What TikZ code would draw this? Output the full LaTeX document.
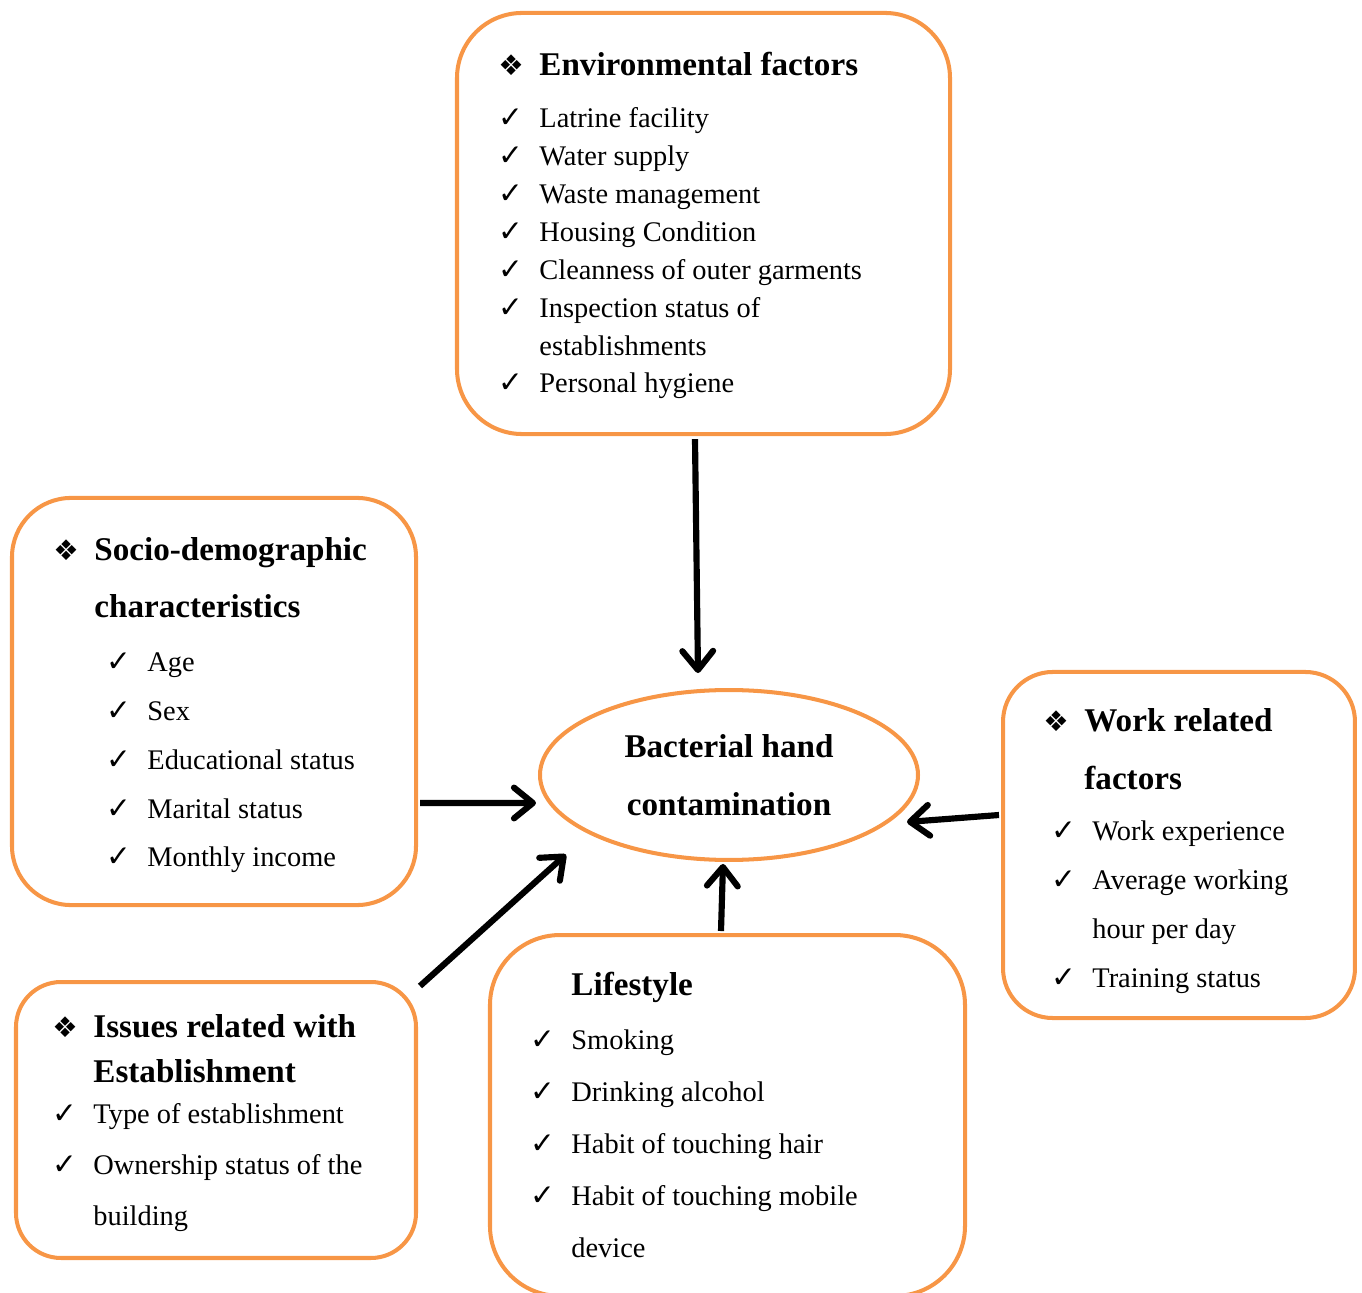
\documentclass[tikz,border=0pt]{standalone}
\usepackage{fontspec}
\setmainfont{Liberation Serif}
\newfontfamily\symf{DejaVu Sans}
\usetikzlibrary{shapes.geometric, arrows.meta, positioning}
\definecolor{boxorange}{HTML}{F79646}
\newlength\symw
\setlength\symw{17.3pt}
\newcommand\dia{\makebox[\symw][l]{\fontsize{12}{12}\selectfont\symf ❖}}
\newcommand\chk{\makebox[\symw][l]{\fontsize{12.5}{12.5}\selectfont\symf ✓}}
\newcommand\skp{\hspace*{\symw}}

\begin{document}
\begin{tikzpicture}[
        x=0.4225pt, y=-0.4225pt,
        box/.style={rectangle, draw=boxorange, line width=1.7pt, rounded corners=#1},
        head/.style={anchor=base west, align=left, inner sep=0pt, font=\fontsize{14}{24.5}\selectfont\bfseries},
        list/.style={anchor=base west, align=left, inner sep=0pt, font=\fontsize{12}{20.7}\selectfont},
        arrow/.style={-{Straight Barb[length=8pt,width=13pt,round]}, line width=2.6pt}
    ]
    \useasboundingbox (0,0) rectangle (1362,1293);

    % Boxes
    \node[box=27.5pt, minimum width=208.3pt, minimum height=177.9pt] (env) at (703.5,223.5) {};
    \node[box=25pt, minimum width=170.7pt, minimum height=172pt] (socio) at (214,701.5) {};
    \node[box=19pt, minimum width=169pt, minimum height=116.6pt] (issues) at (216,1120) {};
    \node[box=29.6pt, minimum width=200.7pt, minimum height=152.5pt] (life) at (727.5,1115.5) {};
    \node[box=21pt, minimum width=148.7pt, minimum height=146.2pt] (work) at (1179,845) {};

    % Centre
    \node[ellipse, draw=boxorange, line width=1.7pt, inner sep=0pt, minimum width=159.7pt, minimum height=71.8pt,
        align=center, font=\fontsize{14}{24.5}\selectfont\bfseries] (bact) at (729,775) {Bacterial hand\\contamination};

    % Environmental factors (base = last line)
    \node[head] (envhead) at (498,76) {\dia Environmental factors};
    \node[list, font=\fontsize{12}{16}\selectfont] (envlist) at (498,393) {\chk Latrine facility\\
        \chk Water supply\\
        \chk Waste management\\
        \chk Housing Condition\\
        \chk Cleanness of outer garments\\
        \chk Inspection status of\\
        \skp establishments\\
        \chk Personal hygiene};

    % Socio-demographic
    \node[head] (sociohead) at (53,618) {\dia Socio-demographic\\ \skp characteristics};
    \node[list] (sociolist) at (106,867) {\chk Age\\
        \chk Sex\\
        \chk Educational status\\
        \chk Marital status\\
        \chk Monthly income};

    % Establishment
    \node[head, font=\fontsize{14}{18.6}\selectfont\bfseries] (issueshead) at (52,1082) {\dia Issues related with\\ \skp Establishment};
    \node[list, font=\fontsize{12}{21.5}\selectfont] (issueslist) at (52,1225) {\chk Type of establishment\\
        \chk Ownership status of the\\
        \skp building};

    % Lifestyle
    \node[head] (lifehead) at (571,995) {Lifestyle};
    \node[list, font=\fontsize{12}{21.9}\selectfont] (lifelist) at (530,1257) {\chk Smoking\\
        \chk Drinking alcohol\\
        \chk Habit of touching hair\\
        \chk Habit of touching mobile\\
        \skp device};

    % Work related
    \node[head] (workhead) at (1043,789) {\dia Work related\\ \skp factors};
    \node[list, font=\fontsize{12}{20.8}\selectfont] (worklist) at (1051,988) {\chk Work experience\\
        \chk Average working\\
        \skp hour per day\\
        \chk Training status};

    % Edges
    \draw[arrow] ([shift={(-8.5,3)}]env.south) -- ([shift={(-31,-15)}]bact.north);
    \draw[arrow] ([shift={(2,101.5)}]socio.east) -- ([shift={(-2,28)}]bact.west);
    \draw[arrow] ([shift={(2,6)}]issues.north east) -- ([shift={(-28,18)}]bact.south west);
    \draw[arrow] ([shift={(-6.5,-2)}]life.north) -- ([shift={(-6,2)}]bact.south);
    \draw[arrow] ([shift={(-2,-30)}]work.west) -- ([shift={(-13,47)}]bact.east);
\end{tikzpicture}
\end{document}
